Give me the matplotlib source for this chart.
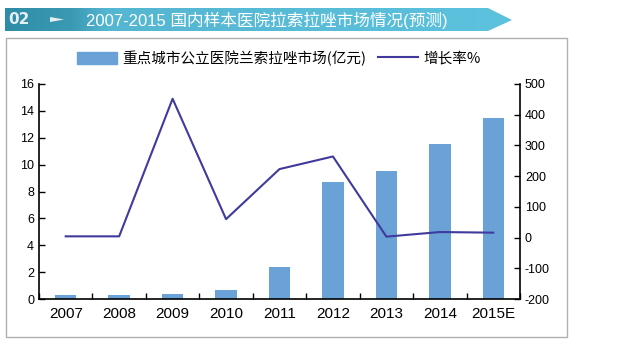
import matplotlib.pyplot as plt
import numpy as np
from matplotlib.patches import Polygon, Rectangle
from matplotlib.lines import Line2D
from matplotlib.colors import LinearSegmentedColormap

plt.rcParams['font.family'] = ['Liberation Sans', 'Noto Sans CJK SC', 'DejaVu Sans']
plt.rcParams['axes.unicode_minus'] = False

years = ['2007', '2008', '2009', '2010', '2011', '2012', '2013', '2014', '2015E']
market = [0.3, 0.3, 0.35, 0.7, 2.4, 8.7, 9.5, 11.5, 13.5]
growth = [4, 4, 452, 60, 223, 264, 3, 18, 16]

title = '2007-2015 国内样本医院拉索拉唑市场情况(预测)'
bar_label = '重点城市公立医院兰索拉唑市场(亿元)'
line_label = '增长率%'

fig = plt.figure(figsize=(6.4, 3.49), dpi=100)
W, H = 640, 349

def fx(px):
    return px / W

def fy(py):
    return 1 - py / H

# banner with gradient
bax = fig.add_axes([0, 0, 1, 1], zorder=0)
bax.set_xlim(0, W)
bax.set_ylim(H, 0)
bax.axis('off')
grad = np.linspace(0, 1, 256).reshape(1, -1)
cmap = LinearSegmentedColormap.from_list('ban', [(0, '#2e8da6'), (0.13, '#3a9ab4'),
                                                (0.2, '#55b6d1'), (1, '#5cc2de')])
im = bax.imshow(grad, extent=[5, 512, 31, 8], aspect='auto', cmap=cmap)
poly = Polygon([[5, 8], [488, 8], [512, 20], [488, 31], [5, 31]], closed=True,
               transform=bax.transData, facecolor='none', edgecolor='none')
bax.add_patch(poly)
im.set_clip_path(poly)
bax.text(8, 20, '02', color='#e6eef2', fontsize=11, fontweight='bold',
         va='center', ha='left', family='DejaVu Sans')
bax.add_patch(Polygon([[50, 17], [64, 19.5], [50, 22]], closed=True,
                      facecolor='#e6eef2', edgecolor='none'))
bax.text(86, 20, title, color='white', fontsize=12, va='center', ha='left',
         family=['Liberation Sans', 'Noto Sans CJK SC'])

# chart frame
bax.add_patch(Rectangle((6, 38), 561, 299, facecolor='white', edgecolor='#b0b0b0', lw=1))

ax = fig.add_axes([fx(39), fy(299), fx(520 - 39), fy(84) - fy(299)], zorder=2)
ax.patch.set_alpha(0)
x = np.arange(len(years))
ax.bar(x, market, width=0.4, color='#6aa2d8', zorder=2)
ax.set_xlim(-0.5, len(years) - 0.5)
ax.set_ylim(0, 16)
ax.set_yticks(range(0, 17, 2))
ax.set_xticks(x)
ax.set_xticklabels(years, fontsize=11)
ax.set_xticks(np.arange(-0.5, len(years), 1), minor=True)
ax.tick_params(axis='x', which='major', length=0, pad=6)
ax.tick_params(axis='x', which='minor', direction='in', length=4, width=1)
ax.tick_params(axis='y', direction='in', length=4, width=1, labelsize=9)
for s in ['top', 'right']:
    ax.spines[s].set_visible(False)
ax.spines['left'].set_linewidth(1.2)
ax.spines['bottom'].set_linewidth(1.2)

ax2 = ax.twinx()
ax2.plot(x, growth, color='#3f3a9c', lw=1.5, zorder=3)
ax2.set_ylim(-200, 500)
ax2.set_yticks(range(-200, 501, 100))
ax2.tick_params(axis='y', direction='in', length=4, width=1, labelsize=9)
for s in ['top', 'left', 'bottom']:
    ax2.spines[s].set_visible(False)
ax2.spines['right'].set_linewidth(1.2)

handles = [Rectangle((0, 0), 1, 1, color='#6aa2d8'),
           Line2D([0], [0], color='#3f3a9c', lw=1.5)]
fig.legend(handles, [bar_label, line_label], loc='center', bbox_to_anchor=(fx(279), fy(58)),
           ncol=2, frameon=False, handlelength=2.7, handleheight=0.9,
           columnspacing=0.8, handletextpad=0.4,
           prop={'family': ['Noto Sans CJK SC'], 'size': 10.5})

fig.savefig('out.png', dpi=100)
